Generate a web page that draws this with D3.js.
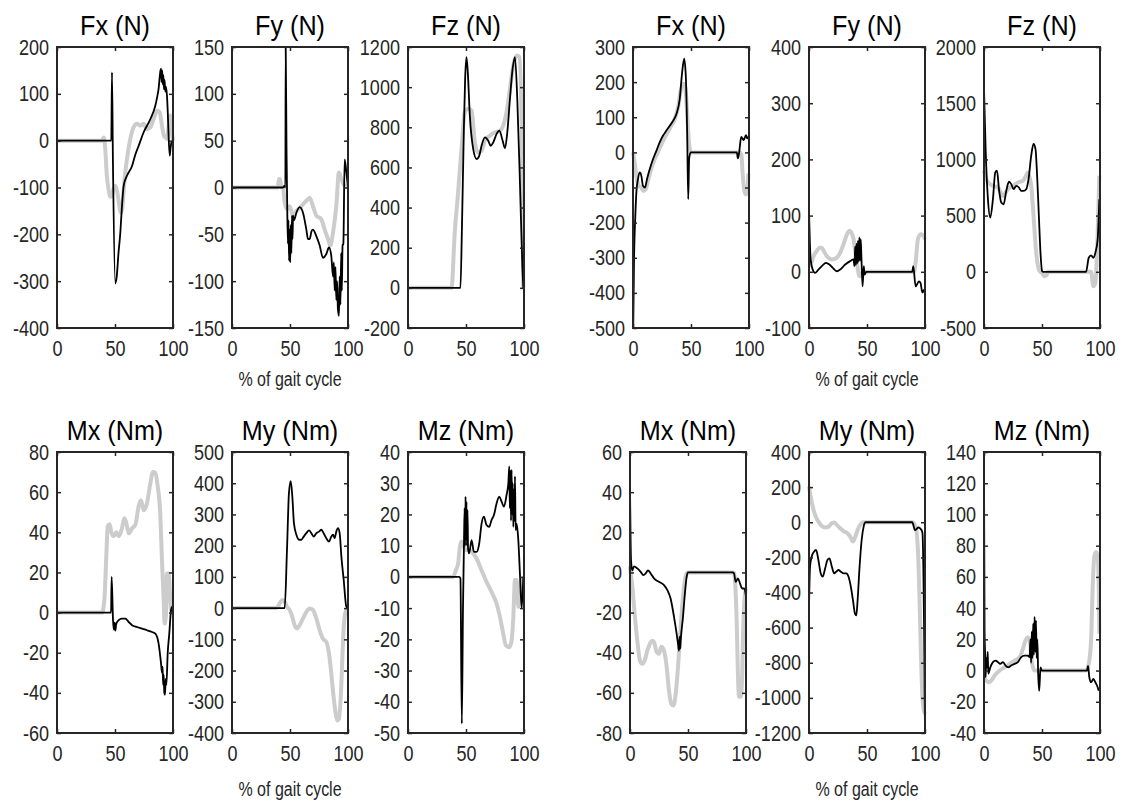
<!DOCTYPE html>
<html>
<head>
<meta charset="utf-8">
<script src="https://cdnjs.cloudflare.com/ajax/libs/d3/7.8.5/d3.min.js"></script>
<style>
  body { margin: 0; background: #fff; }
  svg { display: block; font-family: "Liberation Sans", Arial, Helvetica, sans-serif; }
</style>
</head>
<body>
<script>
'use strict';

// ---- data: [% of gait cycle, value] pairs ----

// top row, left group
const fxL_ticks = [-400, -300, -200, -100, 0, 100, 200];
const fxL_gray = [[0,0],[38.8,0],[40.3,7],[41.7,-20],[42.8,-70],[44.5,-105],[46,-120],[47.4,-118],[48.5,-105],[50.3,-96],[52,-110],[53.2,-130],[55.2,-154],[56.5,-140],[57.5,-104],[59,-65],[60.3,-39],[63.2,4],[66.1,29],[69,36],[71.8,32],[74.7,36],[77.6,25],[80.5,29],[83.3,46],[86.2,64],[88.5,61],[90.5,32],[92,12],[93.4,7],[94.8,4],[96.3,32],[97.7,54],[99,18],[100,0]];
const fxL_black = [[0,0],[46,0],[46.8,0],[47.4,146],[48.2,-40],[50.3,-305],[51.5,-290],[53,-240],[54.6,-196],[56,-140],[57.5,-96],[60.3,-75],[64.7,-54],[67.5,-30],[70.4,-11],[74.7,18],[80.5,46],[84.8,75],[86.5,95],[87.6,111],[88.5,135],[89.2,150],[89.7,154],[90.2,125],[90.7,150],[91.2,120],[91.7,140],[92.2,110],[92.7,130],[93.4,105],[94,115],[94.8,96],[95.5,60],[96.3,4],[97.2,-32],[97.7,-20],[98.6,-4],[100,0]];

const fyL_ticks = [-150, -100, -50, 0, 50, 100, 150];
const fyL_gray = [[0,0],[39.5,0],[40.5,9],[41.5,9],[42.5,0],[44,0],[45.4,-16],[47.4,-23],[49.7,-20],[52.6,-30],[55.5,-25],[58.3,-22],[62.6,-16],[65,-13],[67,-11],[69.8,-20],[72.7,-30],[77,-34],[79.9,-45],[82.8,-55],[84.8,-62],[87.1,-48],[89.9,-20],[92.2,16],[94.3,9],[97.1,2],[100,0]];
const fyL_black = [[0,0],[44,0],[45.3,2],[46,0],[46.3,150],[47,40],[47.6,-20],[48.2,-60],[48.7,-35],[49.2,-78],[49.7,-45],[50.2,-80],[50.7,-40],[51.2,-70],[51.7,-30],[52.2,-55],[52.6,-30],[53.5,-35],[55.5,-27],[58.3,-21],[61.2,-27],[64.1,-45],[65.5,-55],[67,-55],[68.5,-47],[69.8,-45],[72.7,-52],[75.6,-62],[78.4,-75],[81.3,-71],[83.6,-64],[85.6,-73],[87.1,-95],[87.8,-80],[88.5,-110],[89.2,-85],[89.9,-120],[90.6,-100],[91.3,-130],[92.2,-137],[92.8,-95],[93.5,-125],[94.1,-70],[94.7,-110],[95.3,-62],[96,-60],[97.1,30],[98.6,16],[100,0]];

const fzL_ticks = [-200, 0, 200, 400, 600, 800, 1000, 1200];
const fzL_gray = [[0,0],[37.5,0],[40.3,275],[43.2,475],[46.1,692],[49,875],[51.9,892],[54.8,883],[57.6,725],[60.5,675],[63.4,683],[66.3,733],[70.6,758],[74.9,775],[79.3,783],[82.1,808],[85,875],[87.9,992],[90.8,1108],[93.7,1158],[96,1150],[98,775],[99.4,0]];
const fzL_black = [[0,0],[45.2,0],[46.5,300],[48.1,775],[49.3,1050],[50.4,1150],[51.5,1080],[53.3,858],[56.2,692],[59.1,642],[61.4,658],[63.4,708],[66.3,750],[69.2,733],[71.2,708],[73.5,725],[76.4,767],[78.7,783],[81.6,733],[83.6,695],[85.6,775],[87.9,942],[90.2,1092],[92.2,1150],[94.2,942],[96.5,525],[98.6,108],[99.4,0]];

// top row, right group
const fxR_ticks = [-500, -400, -300, -200, -100, 0, 100, 200, 300];
const fxR_gray = [[0,0],[1.5,-30],[3,-70],[5,-95],[7,-100],[9,-110],[11,-105],[13,-80],[15,-55],[18,-25],[22,5],[27,40],[32,70],[36,95],[39,130],[41,175],[43,195],[44.5,195],[46,150],[47.2,80],[48.5,20],[50,0],[92,0],[93.5,-10],[94.5,-60],[96,-110],[97.5,-120],[98.5,-110],[99.5,-60]];
const fxR_black = [[0.2,-500],[0.9,-305],[2,-181],[2.9,-114],[4.3,-76],[5.8,-57],[7.2,-67],[8.6,-95],[10.4,-100],[12.1,-76],[14.4,-48],[17.3,-19],[20.2,5],[23.1,29],[25.9,48],[28.8,62],[31.7,76],[34.6,90],[37.5,110],[40.3,152],[42.4,229],[44.1,267],[45.5,219],[46.7,57],[47.6,-133],[48.4,-19],[49.7,0],[89.5,0],[90.4,-17],[91.5,0],[93.3,44],[95.4,35],[97.4,49],[98.5,40],[99.7,45]];

const fyR_ticks = [-100, 0, 100, 200, 300, 400];
const fyR_gray = [[0,10],[2,15],[4,28],[7,38],[9,43],[11,43],[13,36],[15.3,28],[19.7,22],[24,25],[26.9,34],[29,45],[31.2,58],[33,68],[35,73],[36.5,70],[38.4,58],[40,35],[41.3,16],[43.6,-8],[45.7,-2],[47.5,0],[90.5,0],[91.9,16],[93.9,58],[96.2,67],[98.6,64],[100,58]];
const fyR_black = [[0,111],[1.4,22],[3.2,4],[5.2,-2],[8.1,4],[11,10],[14.7,16],[17.6,13],[20.5,7],[24,1],[26.9,4],[31.2,13],[35.5,19],[38.4,22],[39.2,10],[39.8,45],[40.4,12],[41,50],[41.6,15],[42.2,55],[42.8,18],[43.4,61],[44,20],[44.6,58],[45.2,25],[46.2,-26],[47.2,10],[48,-5],[49.4,0],[89,0],[89.9,10],[91.9,-26],[94.8,-17],[96.2,-20],[97.7,-37],[99.1,-32],[100,-40]];

const fzR_ticks = [-500, 0, 500, 1000, 1500, 2000];
const fzR_gray = [[0,900],[2,820],[4,790],[7.7,765],[12,750],[16.3,675],[20.6,735],[24.9,765],[29.2,795],[33.5,810],[36,850],[37.8,884],[39.3,840],[40.7,765],[42.7,497],[45,170],[47.9,6],[50,-10],[52.2,-39],[54,-30],[55,0],[92.3,0],[94.3,-128],[96,-98],[98,348],[99.4,854]];
const fzR_black = [[0,1628],[1.4,1092],[3.4,646],[5.4,482],[7.7,646],[9.7,884],[11.2,899],[12.9,735],[14.9,616],[16.9,601],[19.2,720],[21.5,801],[23.5,780],[25.5,735],[27.8,765],[30.1,750],[32.1,720],[34.1,720],[36.4,735],[38.4,824],[40.7,1033],[42.7,1137],[44.4,1092],[45.8,854],[47.3,497],[48.7,170],[50.1,6],[51,0],[88,0],[90.3,125],[92.3,146],[94.3,125],[96,170],[98,289],[99.4,646]];

// bottom row, left group
const mxL_ticks = [-60, -40, -20, 0, 20, 40, 60, 80];
const mxL_gray = [[0,0],[38.8,0],[40.8,6],[42.5,28],[43.7,43],[45.4,44],[46.8,40],[48.9,38],[51.1,40],[53.2,38],[56,42],[58,47],[59.8,44.5],[61.8,39.5],[64.7,42],[67.5,43.7],[70.4,53],[72.4,56],[74.7,51],[77.6,54.5],[80.5,64.5],[82.8,70],[84.8,69.5],[86.8,63],[89,49.5],[90.5,26],[92,6],[92.8,-5.5],[94,-0.5],[94.8,19.5],[96.3,19.5],[97.7,6],[99,0],[100,0]];
const mxL_black = [[0,0],[46,0],[46.6,0],[47.1,17.8],[48.3,-3.8],[49,-8.5],[49.7,-5],[50.3,-9],[51.1,-5.5],[53.2,-3.8],[56,-3],[58.9,-3],[61.8,-4.7],[64.7,-6.3],[69,-7.2],[73.3,-8],[77.6,-8.8],[81.9,-9.7],[84.8,-10.5],[87.6,-15.5],[89.7,-25.5],[90.5,-30],[91,-27],[91.5,-36],[92,-31],[92.5,-40],[93.1,-41],[93.7,-33],[94.3,-36],[95.4,-20.5],[96.8,-10.5],[98.3,1.2],[99.1,2.8],[100,0]];

const myL_ticks = [-400, -300, -200, -100, 0, 100, 200, 300, 400, 500];
const myL_gray = [[0,0],[38.2,0],[41.1,15],[43.4,26],[45.4,20],[47.4,4],[49.7,-6],[52,-28],[54,-55],[56,-65],[58.3,-55],[61.2,-33],[64.1,-12],[67,-1],[69.8,-6],[72.7,-33],[75.6,-71],[78.4,-98],[81.3,-108],[83.6,-145],[85.6,-210],[87.6,-285],[89.4,-338],[90.8,-360],[92.2,-354],[94.3,-242],[95.7,-103],[97.1,-28],[98.6,-6],[100,0]];
const myL_black = [[0,0],[45.4,0],[47.4,186],[49.1,369],[50.6,407],[52,358],[53.4,272],[55.5,235],[57.8,219],[59.8,219],[61.8,229],[64.1,240],[66.4,249],[68.4,240],[70.4,229],[72.7,240],[75,245],[77,251],[79,240],[81.3,224],[83.6,213],[85.6,229],[87.1,235],[88.5,224],[89.9,245],[91.4,256],[92.8,240],[94.3,165],[96.3,90],[98.6,4],[100,0]];

const mzL_ticks = [-50, -40, -30, -20, -10, 0, 10, 20, 30, 40];
const mzL_gray = [[0,0],[38.9,0],[41.2,2.1],[43.2,4.3],[44.7,9.6],[46.1,11.3],[48.1,9.6],[50.4,8.6],[53.3,8.6],[56.2,7.5],[59.1,5.9],[63.4,2.1],[67.7,-1.6],[72,-4.8],[76.4,-8.6],[79.3,-12.9],[82.1,-18.2],[84.4,-22],[87.3,-22.5],[89.3,-20.4],[90.8,-12.9],[92.2,-1],[93.7,-1],[95.1,-9.6],[96.5,-6.4],[98,0]];
const mzL_black = [[0,0],[44.1,0],[45.2,-0.5],[46.4,-47],[47.4,-10],[48.3,11.8],[48.8,22],[49.2,10],[49.6,25.7],[50,12],[50.4,24],[50.8,10],[51.3,21.4],[51.8,9],[52.7,7.5],[54.8,11.8],[56.8,8],[59.1,8],[61.4,10.7],[63.4,17],[65.4,19.3],[67.7,16.6],[70,16],[72,18.2],[74.1,19.8],[76.4,23.6],[78.7,25.7],[80.7,24.1],[82.7,22.5],[85,26.3],[86.5,30],[87.3,35.4],[87.8,22],[88.3,34],[88.8,18],[89.3,34.3],[89.8,20],[90.3,30],[90.8,16],[91.3,28],[91.8,18],[92.2,32.2],[92.8,15],[93.7,17],[95.1,11.8],[96.5,1],[98,-10],[99.4,0]];

// bottom row, right group
const mxR_ticks = [-80, -60, -40, -20, 0, 20, 40, 60];
const mxR_gray = [[0,3],[1,-2],[2,-7],[4,-20.5],[6.3,-34],[8.6,-44],[10.6,-45.5],[12.6,-44],[14.9,-39],[17.2,-35.5],[19,-34],[20.7,-34.7],[23,-39.7],[25,-40.5],[27,-37],[29.3,-39],[31.6,-47],[33.6,-59],[35.6,-65.5],[37.4,-66.3],[39.4,-60.5],[41.4,-47],[43.7,-27],[46.6,-7],[48.9,-0.5],[50,0],[89.5,0],[90.5,-4],[92,-25],[93,-50],[94,-62],[95.5,-62],[96.5,-55],[97.5,-30],[98.5,-15],[100,-8]];
const mxR_black = [[0,43],[0.9,6],[2,1],[3.4,3],[6.3,2],[9.2,0.3],[11.5,-1.3],[13.5,-0.5],[15.5,1],[17.8,-0.5],[20.7,-3],[25,-4.7],[29.3,-6.3],[32.2,-8.8],[35,-13],[37.9,-22],[40.2,-30.5],[41.5,-36],[42.2,-39],[42.8,-32],[43.3,-38],[43.7,-34],[45.7,-22],[47.1,-12],[48.9,-2],[50,0],[88.2,0],[89.7,-0.5],[91.1,-4.7],[93.1,-3],[94.8,-5.5],[96.8,-8],[98.5,-8],[100,-12]];

const myR_ticks = [-1200, -1000, -800, -600, -400, -200, 0, 200, 400];
const myR_gray = [[0,204],[1.4,147],[3.2,90],[5.2,42],[8.1,4],[11,-21],[13.9,-30],[16.8,-25],[19.7,-6],[21.7,-2],[24,-15],[26.9,-34],[30.3,-53],[33.2,-63],[35.5,-82],[37.9,-110],[39.9,-82],[41.9,-44],[44.2,-15],[47.1,0],[89,0],[91.9,-25],[93.9,-158],[95.7,-539],[96.8,-825],[98,-1015],[99.1,-1072],[100,-1091]];
const myR_black = [[0,-482],[0.9,-253],[2.3,-196],[4.3,-168],[6.1,-158],[8.1,-215],[10.1,-291],[11.8,-310],[13.9,-263],[15.9,-215],[17.6,-206],[19.7,-253],[21.7,-291],[23.4,-282],[25.4,-272],[27.5,-282],[29.8,-291],[32.1,-291],[34.1,-310],[36.1,-368],[37.9,-444],[39.6,-520],[40.8,-530],[41.9,-444],[43.6,-253],[45.4,-101],[47.1,-25],[48.8,0],[89,0],[91.4,-45],[94.2,-30],[96.5,-40],[97.8,-60],[99.2,-600],[100,-1200]];

const mzR_ticks = [-40, -20, 0, 20, 40, 60, 80, 100, 120, 140];
const mzR_gray = [[0,-4.3],[2,-6.4],[4.3,-7.5],[6.3,-6.4],[9.2,-3.2],[13.5,0],[17.8,2.1],[22.1,4.3],[26.4,6.4],[30.7,8.6],[33.5,13.9],[35.8,19.3],[37.8,21.4],[39.8,17],[41.5,4.3],[43.6,0],[88,0],[90.3,4.3],[92.3,19.3],[93.7,53.6],[95.1,73],[96.6,76],[98,73],[98.9,53.6],[99.4,23.6]];
const mzR_black = [[0,128],[0.5,25],[1,10],[1.4,-4.3],[2,8],[2.6,2],[3.2,12],[3.7,-2],[5.4,2],[7.7,5.4],[10,6.4],[12,5.4],[14,4.3],[16.3,5.4],[18.6,3.2],[20.9,2.1],[23.5,3.2],[26.4,4.3],[29.2,5.4],[32.1,8.6],[35,9.6],[37.8,9.6],[39.3,8.6],[40,20],[40.6,5],[41.2,25],[41.8,8],[42.4,30],[43,10],[43.6,34.3],[44.2,12],[44.8,32],[45.4,8],[46,20],[46.7,-2],[47.6,-13],[48.7,2],[49.9,0],[88.8,0],[89.7,3],[90.8,-4.3],[92.3,-7.5],[94.3,-5.4],[96,-7.5],[98,-10.7],[98.9,-13]];

const xTicks = [0, 50, 100];
const topTitles = ["Fx (N)", "Fy (N)", "Fz (N)", "Fx (N)", "Fy (N)", "Fz (N)"];
const bottomTitles = ["Mx (Nm)", "My (Nm)", "Mz (Nm)", "Mx (Nm)", "My (Nm)", "Mz (Nm)"];
const xLabel = "% of gait cycle";

// ---- layout ----
const boxW = 116, boxH = 281;
const rowTop = [47, 452];
const labelGap = [58, 63]; // distance of the x label baseline below each row
const colLeft = [[57, 232, 408, 633, 809, 984], [57, 232, 408, 630, 809, 984]];
const axisColor = "#262626";

let svg = d3.select("body").append("svg")
  .attr("width", 1126)
  .attr("height", 807);

svg.append("rect").attr("width", 1126).attr("height", 807).attr("fill", "#fff");

let panels = [
  [fxL_ticks, fxL_gray, fxL_black], [fyL_ticks, fyL_gray, fyL_black], [fzL_ticks, fzL_gray, fzL_black],
  [fxR_ticks, fxR_gray, fxR_black], [fyR_ticks, fyR_gray, fyR_black], [fzR_ticks, fzR_gray, fzR_black],
  [mxL_ticks, mxL_gray, mxL_black], [myL_ticks, myL_gray, myL_black], [mzL_ticks, mzL_gray, mzL_black],
  [mxR_ticks, mxR_gray, mxR_black], [myR_ticks, myR_gray, myR_black], [mzR_ticks, mzR_gray, mzR_black]
];

panels.forEach((p, i) => {
  let row = Math.floor(i / 6), col = i % 6;
  let title = row == 0 ? topTitles[col] : bottomTitles[col];
  drawPanel(colLeft[row][col], rowTop[row], p[0], p[1], p[2], title);
});

// x axis labels under the middle panel of each group
[0, 1].forEach(row => {
  [1, 4].forEach(col => {
    let cx = colLeft[row][col] + boxW / 2;
    svg.append("text")
      .attr("transform", `translate(${cx},${rowTop[row] + boxH + labelGap[row]}) scale(0.8,1)`)
      .attr("text-anchor", "middle")
      .style("font-size", "20px")
      .attr("fill", axisColor)
      .text(xLabel);
  });
});

function drawPanel(left, top, ticks, gray, black, title) {
  let x = d3.scaleLinear().domain([0, 100]).range([left, left + boxW]);
  let y = d3.scaleLinear()
    .domain([ticks[0], ticks[ticks.length - 1]])
    .range([top + boxH, top]);

  let line = d3.line()
    .x(d => x(d[0]))
    .y(d => y(d[1]))
    .curve(d3.curveMonotoneX);

  svg.append("path").datum(gray)
    .attr("d", line)
    .attr("fill", "none")
    .attr("stroke", "#cccccc")
    .attr("stroke-width", 4)
    .attr("stroke-linejoin", "round");

  svg.append("path").datum(black)
    .attr("d", line)
    .attr("fill", "none")
    .attr("stroke", "#000")
    .attr("stroke-width", 1.8)
    .attr("stroke-linejoin", "round");

  // plain integer labels with a hyphen minus, like matlab
  let fmt = d => String(d);

  // axes, ticks pointing inward like matlab
  let yLeft = svg.append("g")
    .attr("transform", `translate(${left},0)`)
    .call(d3.axisLeft(y).tickValues(ticks).tickFormat(fmt).tickSizeInner(-4).tickSizeOuter(0).tickPadding(9.8));
  let yRight = svg.append("g")
    .attr("transform", `translate(${left + boxW},0)`)
    .call(d3.axisRight(y).tickValues(ticks).tickSizeInner(-4).tickSizeOuter(0).tickFormat(""));
  let xBottom = svg.append("g")
    .attr("transform", `translate(0,${top + boxH})`)
    .call(d3.axisBottom(x).tickValues(xTicks).tickFormat(fmt).tickSizeInner(-4).tickSizeOuter(0).tickPadding(12));
  let xTop = svg.append("g")
    .attr("transform", `translate(0,${top})`)
    .call(d3.axisTop(x).tickValues(xTicks).tickSizeInner(-4).tickSizeOuter(0).tickFormat(""));

  [yLeft, yRight, xBottom, xTop].forEach(g => {
    g.select(".domain").remove();
    g.selectAll("line").attr("stroke", axisColor).attr("stroke-width", 1.5);
    g.selectAll("text")
      .attr("transform", "scale(0.82,1)")
      .attr("fill", axisColor)
      .style("font-size", "22px")
      .style("font-family", '"Liberation Sans", Arial, Helvetica, sans-serif');
  });

  // box
  svg.append("rect")
    .attr("x", left)
    .attr("y", top)
    .attr("width", boxW)
    .attr("height", boxH)
    .attr("fill", "none")
    .attr("stroke", axisColor)
    .attr("stroke-width", 2);

  // title
  svg.append("text")
    .attr("transform", `translate(${left + boxW / 2},${top - 12}) scale(0.9,1)`)
    .attr("text-anchor", "middle")
    .style("font-size", "28px")
    .attr("fill", "#000")
    .text(title);
}
</script>
</body>
</html>
